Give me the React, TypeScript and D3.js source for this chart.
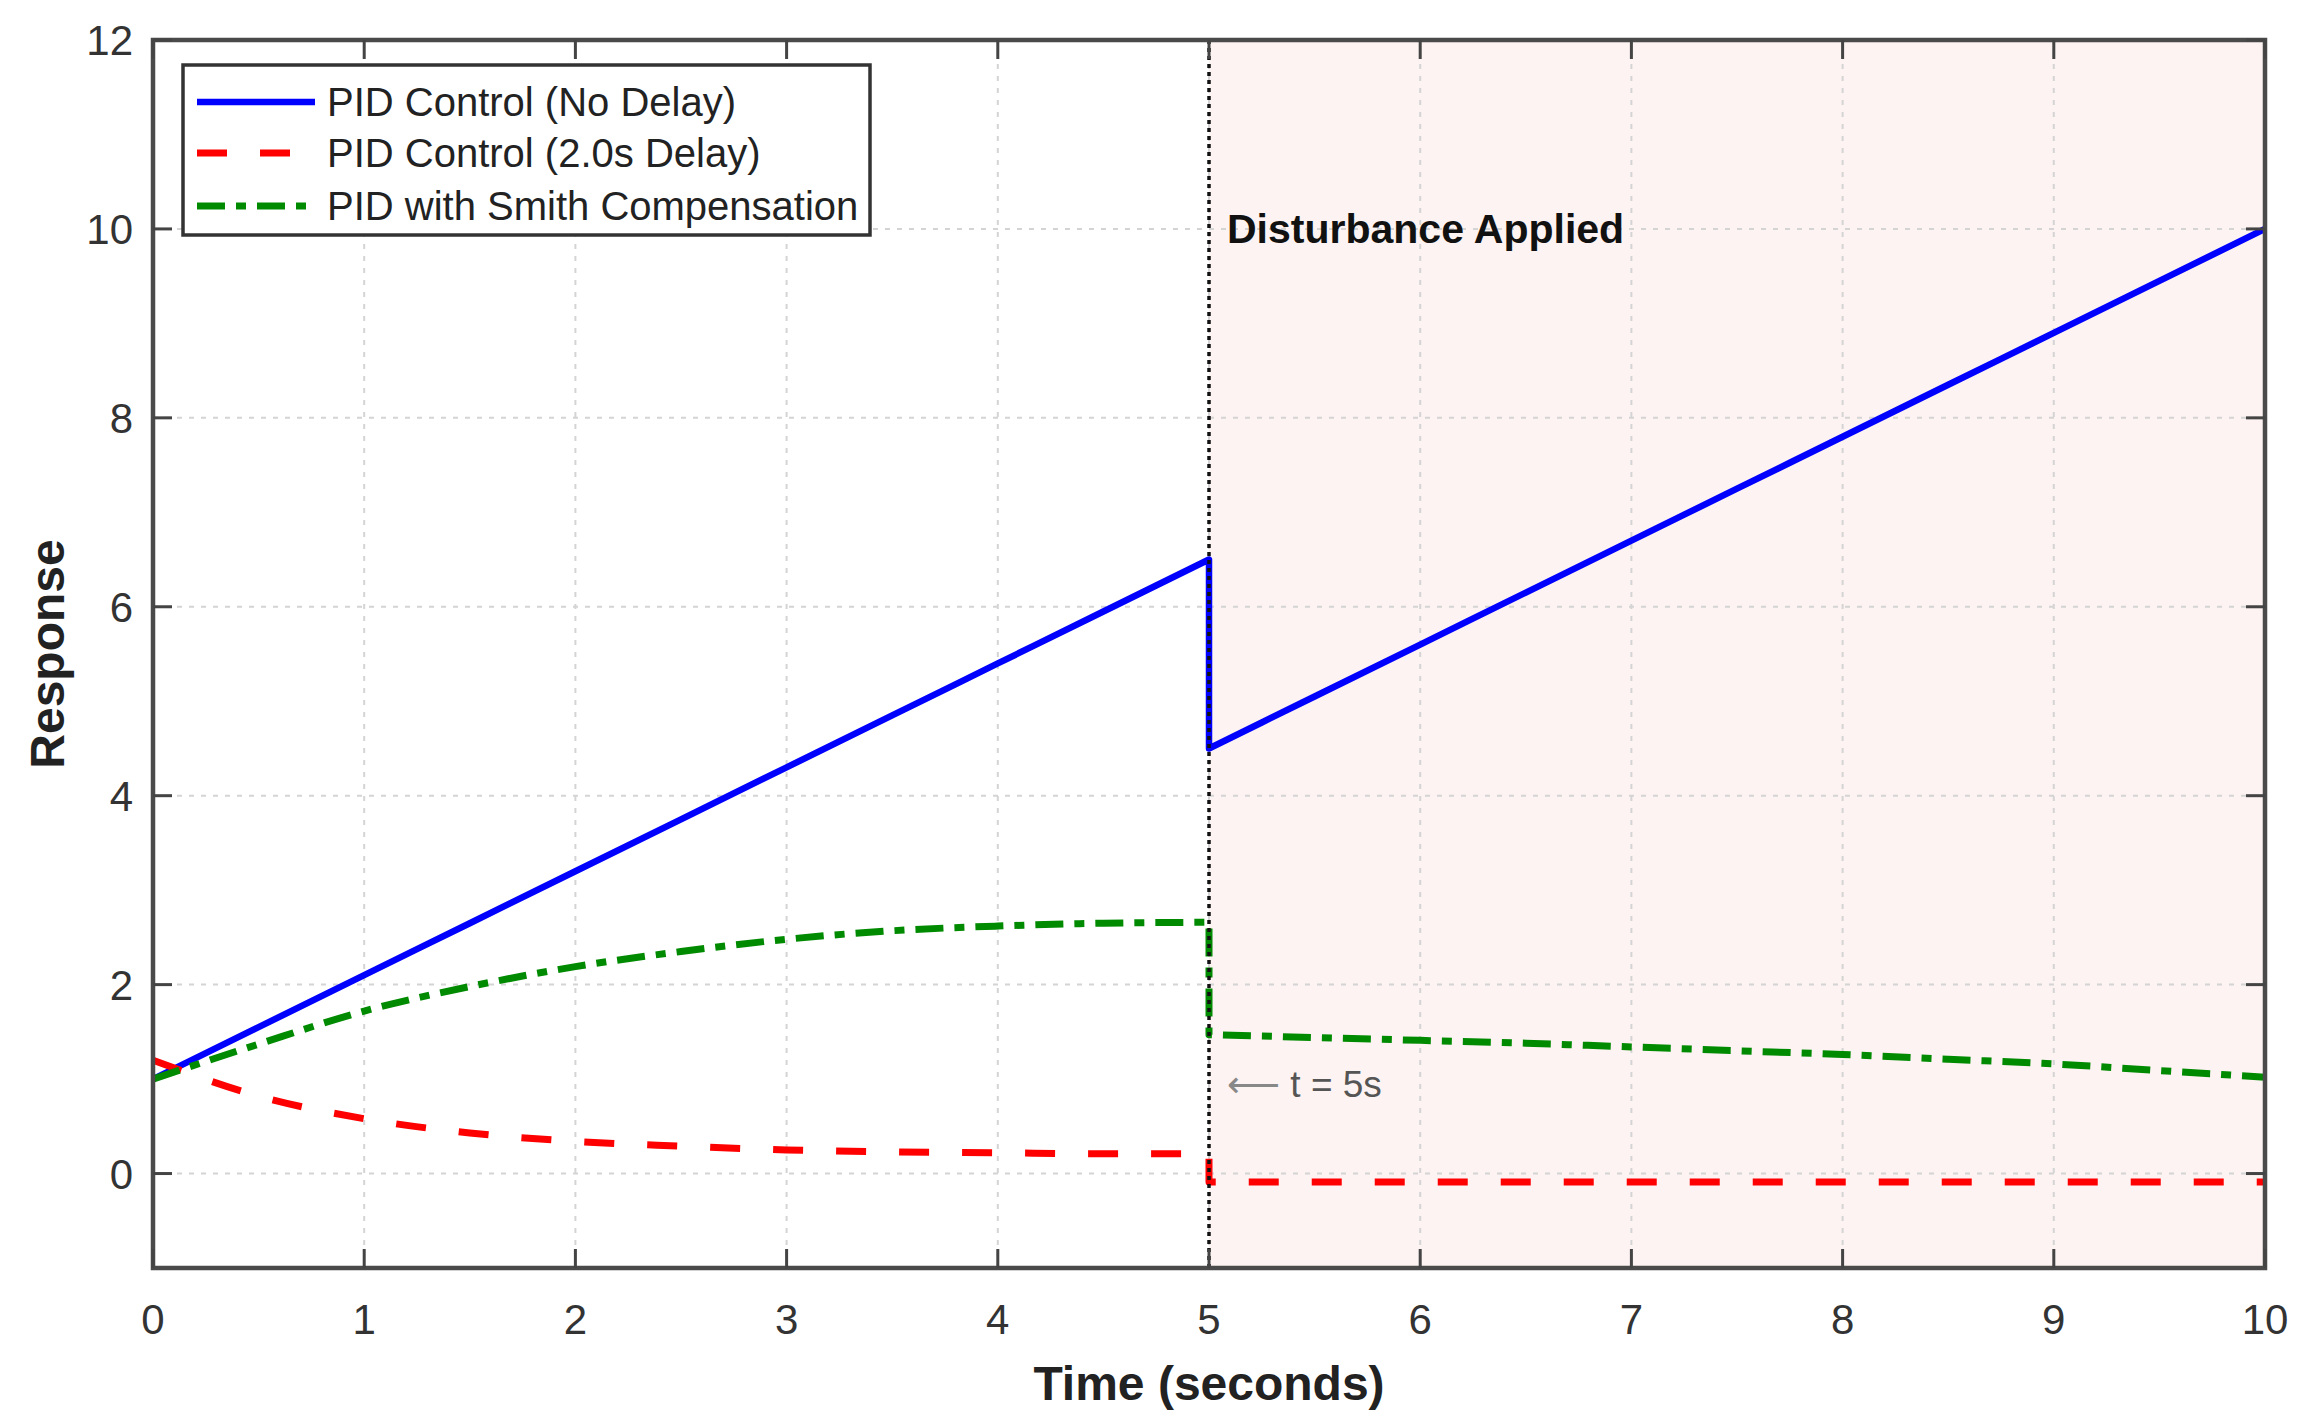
import React from "react";
import * as d3 from "d3";

const W = 2308;
const H = 1428;
const plot = { left: 153, right: 2265, top: 40, bottom: 1268 };

// sampled every 0.5 s; the disturbance step sits at t = 5
const timeBefore = [0, 0.5, 1, 1.5, 2, 2.5, 3, 3.5, 4, 4.5, 5];
const timeAfter = [5, 5.5, 6, 6.5, 7, 7.5, 8, 8.5, 9, 9.5, 10];

const noDelayBefore = [1.0, 1.55, 2.1, 2.65, 3.2, 3.75, 4.3, 4.85, 5.4, 5.95, 6.5];
const noDelayAfter = [4.5, 5.05, 5.6, 6.15, 6.7, 7.25, 7.8, 8.35, 8.9, 9.45, 10.0];
const delayBefore = [1.2, 0.82, 0.58, 0.43, 0.34, 0.29, 0.25, 0.23, 0.22, 0.21, 0.21];
const delayAfter = [-0.09, -0.09, -0.09, -0.09, -0.09, -0.09, -0.09, -0.09, -0.09, -0.09, -0.09];
const smithBefore = [1.0, 1.37, 1.72, 1.98, 2.19, 2.35, 2.48, 2.57, 2.62, 2.65, 2.66];
const smithAfter = [1.47, 1.44, 1.41, 1.38, 1.34, 1.3, 1.26, 1.21, 1.16, 1.09, 1.02];

const xTicks = [0, 1, 2, 3, 4, 5, 6, 7, 8, 9, 10];
const yTicks = [0, 2, 4, 6, 8, 10, 12];
const disturbanceAt = 5;

const series = [
  { label: "PID Control (No Delay)", before: noDelayBefore, after: noDelayAfter, color: "#0000ff", dash: "none", width: 6.5 },
  { label: "PID Control (2.0s Delay)", before: delayBefore, after: delayAfter, color: "#ff0000", dash: "30,33", width: 7 },
  { label: "PID with Smith Compensation", before: smithBefore, after: smithAfter, color: "#008a00", dash: "28,11,10,11", width: 7 },
];

const font = "'Liberation Sans', Arial, Helvetica, sans-serif";

export default function App() {
  const x = d3.scaleLinear().domain([0, 10]).range([plot.left, plot.right]);
  const y = d3.scaleLinear().domain([-1, 12]).range([plot.bottom, plot.top]);

  const line = d3
    .line<[number, number]>()
    .x((d) => x(d[0]))
    .y((d) => y(d[1]))
    .curve(d3.curveMonotoneX);

  // smooth each side of the step, then join them with the vertical drop
  const seriesPath = (before: number[], after: number[]) => {
    const a = line(timeBefore.map((t, i) => [t, before[i]] as [number, number])) || "";
    const b = line(timeAfter.map((t, i) => [t, after[i]] as [number, number])) || "";
    return a + b.replace(/^M/, "L");
  };

  const tick = 19;
  const legend = { x: 183, y: 65, w: 687, h: 170 };
  const rowY = [102, 153, 206];

  return (
    <svg width={W} height={H} style={{ position: "absolute", left: 0, top: 0, background: "#fff" }} fontFamily={font}>
      {/* disturbance region */}
      <rect x={x(disturbanceAt)} y={plot.top} width={x(10) - x(disturbanceAt)} height={plot.bottom - plot.top} fill="#fdf3f2" />

      {/* grid */}
      {xTicks.map((t) => (
        <line key={"gx" + t} x1={x(t)} x2={x(t)} y1={plot.top} y2={plot.bottom} stroke="#d4d4d4" strokeWidth={2} strokeDasharray="5,7" />
      ))}
      {yTicks.map((t) => (
        <line key={"gy" + t} x1={plot.left} x2={plot.right} y1={y(t)} y2={y(t)} stroke="#d4d4d4" strokeWidth={2} strokeDasharray="5,7" />
      ))}

      {/* series */}
      {series.map((s) => (
        <path key={s.label} d={seriesPath(s.before, s.after)} fill="none" stroke={s.color} strokeWidth={s.width} strokeDasharray={s.dash} strokeLinejoin="round" />
      ))}

      {/* disturbance marker */}
      <line x1={x(disturbanceAt)} x2={x(disturbanceAt)} y1={plot.top} y2={plot.bottom} stroke="#111" strokeWidth={3.5} strokeDasharray="4,4" />
      <text x={x(disturbanceAt) + 18} y={y(10) + 14} fontSize={41} fontWeight="bold" fill="#111">
        Disturbance Applied
      </text>
      <text x={x(disturbanceAt) + 18} y={y(1.45) + 60} fontSize={37} fill="#555">
        <tspan fontFamily="'DejaVu Sans', sans-serif" fill="#888">⟵</tspan> t = 5s
      </text>

      {/* frame + ticks on all sides */}
      <rect x={plot.left} y={plot.top} width={plot.right - plot.left} height={plot.bottom - plot.top} fill="none" stroke="#4a4a4a" strokeWidth={4.5} />
      {xTicks.map((t) => (
        <g key={"tx" + t} stroke="#444" strokeWidth={3}>
          <line x1={x(t)} x2={x(t)} y1={plot.bottom} y2={plot.bottom - tick} />
          <line x1={x(t)} x2={x(t)} y1={plot.top} y2={plot.top + tick} />
        </g>
      ))}
      {yTicks.map((t) => (
        <g key={"ty" + t} stroke="#444" strokeWidth={3}>
          <line x1={plot.left} x2={plot.left + tick} y1={y(t)} y2={y(t)} />
          <line x1={plot.right} x2={plot.right - tick} y1={y(t)} y2={y(t)} />
        </g>
      ))}

      {/* tick labels */}
      {xTicks.map((t) => (
        <text key={"lx" + t} x={x(t)} y={plot.bottom + 66} fontSize={42} textAnchor="middle" fill="#333">
          {t}
        </text>
      ))}
      {yTicks.map((t) => (
        <text key={"ly" + t} x={plot.left - 20} y={y(t) + 15} fontSize={42} textAnchor="end" fill="#333">
          {t}
        </text>
      ))}

      {/* axis labels */}
      <text x={x(5)} y={1400} fontSize={48} fontWeight="bold" textAnchor="middle" fill="#222">
        Time (seconds)
      </text>
      <text transform={`translate(64, ${(plot.top + plot.bottom) / 2}) rotate(-90)`} fontSize={48} fontWeight="bold" textAnchor="middle" fill="#222">
        Response
      </text>

      {/* legend */}
      <rect x={legend.x} y={legend.y} width={legend.w} height={legend.h} fill="#fff" stroke="#333" strokeWidth={3.5} />
      {series.map((s, i) => (
        <g key={"lg" + i}>
          <line x1={197} x2={315} y1={rowY[i]} y2={rowY[i]} stroke={s.color} strokeWidth={s.width} strokeDasharray={s.dash} />
          <text x={327} y={rowY[i] + 14} fontSize={40} fill="#222">
            {s.label}
          </text>
        </g>
      ))}
    </svg>
  );
}
